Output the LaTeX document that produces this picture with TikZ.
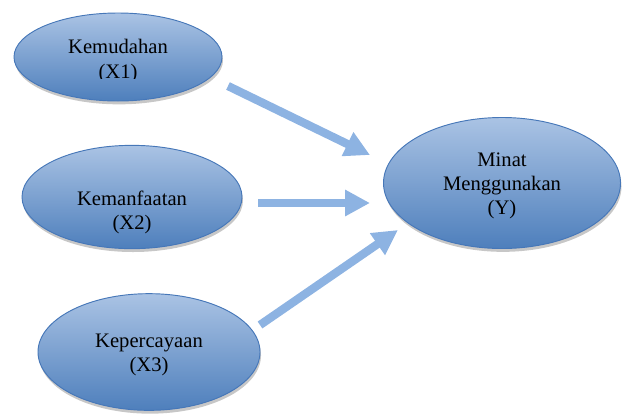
\documentclass[tikz,border=0pt]{standalone}
\usepackage{fontspec}
\setmainfont{Liberation Serif}
\usetikzlibrary{shapes.geometric, arrows.meta, shadows}

\definecolor{varlight}{HTML}{AAC3E4}
\definecolor{vardark}{HTML}{4E7FBC}
\definecolor{varline}{HTML}{4677B8}
\definecolor{arrowblue}{HTML}{8DB3E2}

\tikzstyle{varnode} = [ellipse, 
draw=varline, 
line width=0.8pt,
top color=varlight, 
bottom color=vardark,
drop shadow={shadow xshift=0.03cm, shadow yshift=-0.1cm, fill=black!22, opacity=1}]
\tikzstyle{vartext} = [align=center, 
inner sep=0pt,
font=\fontsize{17.6}{20.6}\selectfont]
\tikzstyle{arrow} = [draw=arrowblue, line width=0.25cm, 
-{Triangle[width=0.75cm, length=0.75cm]}]

\begin{document}
\begin{tikzpicture}[x=0.03cm, y=-0.03cm]
\useasboundingbox (0,0) rectangle (627,413);

\node (x1) [varnode, minimum width=6.24cm, minimum height=2.64cm] at (118,57) {};
\node (x2) [varnode, minimum width=6.6cm, minimum height=3.1cm] at (132,197) {};
\node (x3) [varnode, minimum width=6.66cm, minimum height=3.5cm] at (149,352) {};
\node (y) [varnode, minimum width=7.11cm, minimum height=3.93cm] at (502,183) {};

\begin{scope}
\clip (0,0) rectangle (627,78);
\node (t1) [vartext] at (118,61) {Kemudahan\\(X1)};
\end{scope}
\node (t2) [vartext] at (132,212) {Kemanfaatan\\(X2)};
\node (t3) [vartext] at (149,355) {Kepercayaan\\(X3)};
\node (ty) [vartext] at (502,186) {Minat\\Menggunakan\\(Y)};

\coordinate (x1out) at (228,86);
\coordinate (x2out) at (258,203);
\coordinate (x3out) at (260,325);
\coordinate (yin1) at (370,155);
\coordinate (yin2) at (370,203);
\coordinate (yin3) at (398,230);

\draw [arrow] (x1out) -- (yin1);
\draw [arrow] (x2out) -- (yin2);
\draw [arrow] (x3out) -- (yin3);

\end{tikzpicture}
\end{document}
